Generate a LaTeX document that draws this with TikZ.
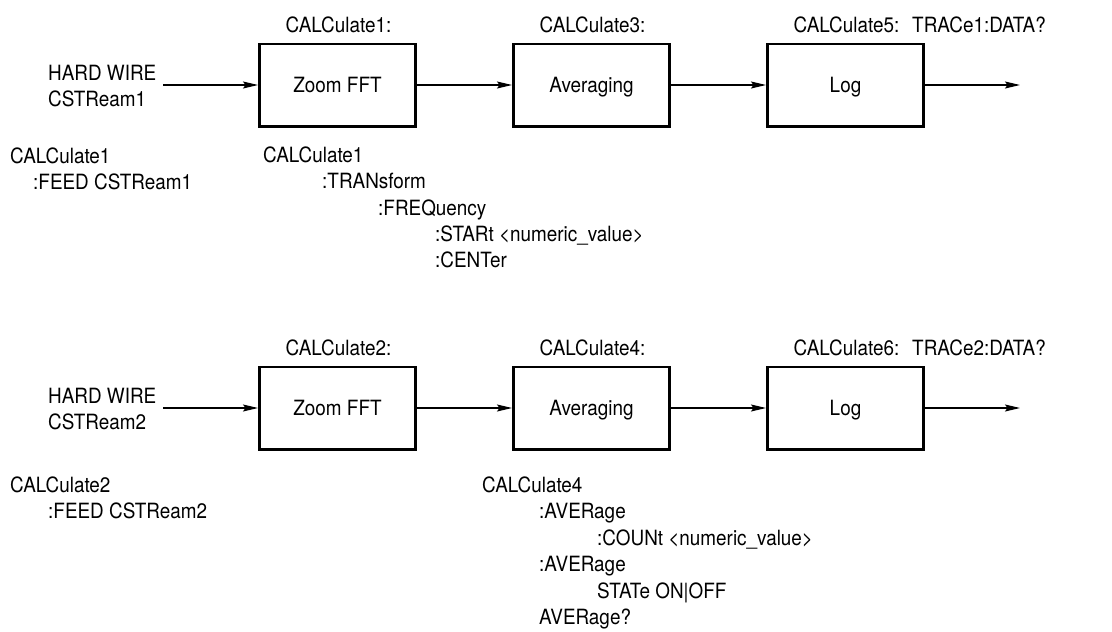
\documentclass[tikz,border=0pt]{standalone}
\usepackage{fontspec}
\setmainfont{TeX Gyre Heros}[FakeStretch = 0.9]
\usetikzlibrary{arrows.meta}

\begin{document}
\begin{tikzpicture}[%
        x = 1pt, y = -1pt,
        > = {Stealth[length = 15pt, width = 7pt, inset = 2.5pt]},
        block/.style = {
            draw, line width = 2.6pt,
            minimum width = 156.4pt, minimum height = 82.4pt,
            inner sep = 0pt, text height = 15pt, text depth = 0pt
        },
        flow/.style = {->, line width = 1.2pt},
        cmd/.style = {anchor = base west, inner sep = 0pt},
        tag/.style = {anchor = base, inner sep = 0pt},
        font = \fontsize{21}{25}\selectfont
    ]

        \useasboundingbox (0, 0) rectangle (1112, 632);

        % Command for one chain: hard wire input, three blocks, trace output.
        \newcommand*{\defchain}[5]{%
            \node[cmd] (hard) at (48, 80) {HARD WIRE};
            \node[cmd] (stream) at (48, 106) {CSTReam#1};
            \coordinate (in) at (163, 85);
            \node[block] (zoom) at (337.5, 85) {Zoom FFT};
            \node[block] (avg) at (591.5, 85) {Averaging};
            \node[block] (log) at (845.5, 85) {Log};
            \coordinate (out) at (1020, 85);
            \node[tag] (calcA) at (338.5, 32) {CALCulate#2:};
            \node[tag] (calcB) at (592.5, 32) {CALCulate#3:};
            \node[tag] (calcC) at (846.5, 32) {CALCulate#4:};
            \node[cmd] (trace) at (912, 32) {TRACe#5:DATA?};
            \draw[flow] (in) to (zoom);
            \draw[flow] (zoom) to (avg);
            \draw[flow] (avg) to (log);
            \draw[flow] (log) to (out);
        }

        \begin{scope}
            \defchain{1}{1}{3}{5}{1};
            \node[cmd] (feedA) at (10, 163) {CALCulate1};
            \node[cmd] (feedB) at (33, 189) {:FEED CSTReam1};
            \node[cmd] (zoomA) at (263, 162) {CALCulate1};
            \node[cmd] (zoomB) at (322, 188) {:TRANsform};
            \node[cmd] (zoomC) at (378, 215) {:FREQuency};
            \node[cmd] (zoomD) at (435, 241) {:STARt \textless numeric\_value\textgreater};
            \node[cmd] (zoomE) at (435, 267) {:CENTer};
        \end{scope}

        \begin{scope}[shift = {(0, 323)}]
            \defchain{2}{2}{4}{6}{2};
        \end{scope}

        \node[cmd] (feedC) at (10, 492) {CALCulate2};
        \node[cmd] (feedD) at (48, 518) {:FEED CSTReam2};
        \node[cmd] (avgA) at (482, 492) {CALCulate4};
        \node[cmd] (avgB) at (539, 518.5) {:AVERage};
        \node[cmd] (avgC) at (597, 545) {:COUNt \textless numeric\_value\textgreater};
        \node[cmd] (avgD) at (539, 571.5) {:AVERage};
        \node[cmd] (avgE) at (597, 598) {STATe ON|OFF};
        \node[cmd] (avgF) at (539, 624.5) {AVERage?};
        \let\defchain\undefined
    \end{tikzpicture}
\end{document}
